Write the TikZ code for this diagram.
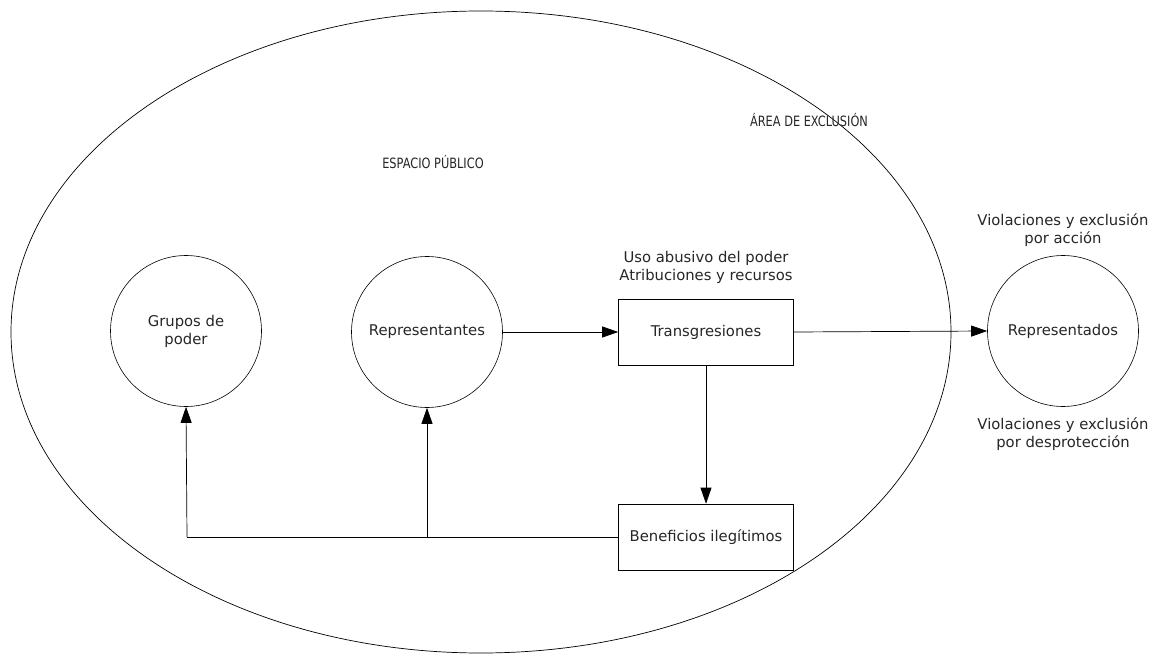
\documentclass[tikz,border=0pt]{standalone}
\usepackage{fontspec}
\setmainfont{DejaVu Sans}
\newfontfamily\narrowcaps[FakeStretch=0.8]{DejaVu Sans}
\usetikzlibrary{arrows.meta}
\begin{document}
\begin{tikzpicture}[x=1pt,y=-1pt,
  every node/.style={font=\fontsize{14.8}{18}\selectfont, text=black!85},
  capsfont/.style={font=\narrowcaps\fontsize{14.2}{17}\selectfont},
  bubble/.style={draw, circle, minimum size=151pt, inner sep=0pt, align=center, line width=0.6pt},
  boxnode/.style={draw, rectangle, minimum width=175pt, minimum height=66pt, line width=0.6pt},
  label/.style={align=center, inner sep=0pt},
  conn/.style={line width=0.7pt},
  arr/.style={conn, -{Triangle[length=16pt,width=11pt]}}]
\useasboundingbox (0,0) rectangle (1160,655);
\draw[line width=0.7pt] (481,332) ellipse [x radius=470pt, y radius=321pt];
\node[label, capsfont] (esp) at (433,162) {ESPACIO PÚBLICO};
\node[label, capsfont] (area) at (809,120) {ÁREA DE EXCLUSIÓN};
\node[bubble] (grupos) at (186,331) {Grupos de\\poder};
\node[bubble] (reps) at (427,332) {Representantes};
\node[boxnode] (trans) at (706,332) {Transgresiones};
\node[boxnode] (benef) at (706,537) {Beneficios ilegítimos};
\node[bubble] (repdos) at (1063,331) {Representados};
\node[label] (uso) at (706,267) {Uso abusivo del poder\\Atribuciones y recursos};
\node[label] (vacc) at (1063,230) {Violaciones y exclusión\\por acción};
\node[label] (vdes) at (1063,434) {Violaciones y exclusión\\por desprotección};
\coordinate (j1) at (187,537);
\coordinate (j2) at (427,537);
\draw[arr] (reps.east) -- (trans.west);
\draw[arr] (trans.east) -- (repdos.west);
\draw[arr] (trans.south) -- (benef.north);
\draw[conn] (benef.west) -- (j2);
\draw[conn] (j2) -- (j1);
\draw[arr] (j1) -- (grupos.south);
\draw[arr] (j2) -- (reps.south);
\end{tikzpicture}
\end{document}
